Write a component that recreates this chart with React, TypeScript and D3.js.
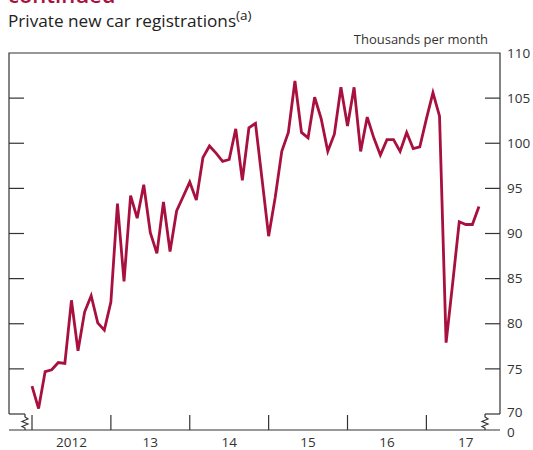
import React, { useEffect, useRef } from 'react';
import * as d3 from 'd3';

// monthly, Jan 2012 to Sep 2017
const registrations: number[] = [
  73.1, 70.6, 74.7, 74.9, 75.7, 75.6, 82.6, 77.0, 81.3, 83.1, 80.1, 79.3,
  82.4, 93.3, 84.7, 94.2, 91.7, 95.4, 90.1, 87.8, 93.5, 88.0, 92.5, 94.1,
  95.7, 93.7, 98.4, 99.7, 98.9, 98.0, 98.2, 101.6, 95.9, 101.7, 102.2, 96.0,
  89.7, 94.0, 99.1, 101.2, 106.9, 101.2, 100.6, 105.1, 102.7, 99.1, 101.0, 106.2,
  101.9, 106.2, 99.1, 102.9, 100.6, 98.7, 100.4, 100.4, 99.1, 101.2, 99.4, 99.6,
  102.7, 105.6, 103.0, 77.9, 84.5, 91.3, 91.0, 91.0, 93.0,
];
const yearLabels = ['2012', '13', '14', '15', '16', '17'];
const yTicks = [70, 75, 80, 85, 90, 95, 100, 105, 110];

const FONT = '"Open Sans", "Noto Sans", sans-serif';
const LINE = '#a8103f';
const INK = '#333333';

const App: React.FC = () => {
  const ref = useRef<SVGSVGElement>(null);

  useEffect(() => {
    if (!ref.current) return;
    const svg = d3.select(ref.current);
    svg.selectAll('*').remove();

    const left = 9, right = 500, top = 53, bottom = 430, breakY = 414;

    const x = d3.scaleLinear().domain([-3.5, 71.2]).range([left, right]);
    const y = d3.scaleLinear().domain([70, 110]).range([breakY, top]);

    // cut-off heading
    svg.append('text')
      .attr('x', 8).attr('y', 3)
      .attr('font-family', FONT).attr('font-size', 22).attr('font-weight', 600)
      .attr('fill', LINE)
      .text('continued');

    const title = svg.append('text')
      .attr('x', 8).attr('y', 27)
      .attr('font-family', FONT).attr('font-size', 17.2)
      .attr('fill', '#222');
    title.append('tspan').text('Private new car registrations');
    title.append('tspan').attr('font-size', 13.5).attr('dy', -7).text('(a)');

    svg.append('text')
      .attr('x', 488).attr('y', 44)
      .attr('text-anchor', 'end')
      .attr('font-family', FONT).attr('font-size', 13)
      .attr('fill', INK)
      .text('Thousands per month');

    const axis = svg.append('g').attr('stroke', INK).attr('stroke-width', 1.2).attr('fill', 'none');
    const zig = (cx: number) =>
      `M${cx},${breakY} L${cx},${breakY + 3} L${cx + 3},${breakY + 5} L${cx - 3},${breakY + 7.5} L${cx + 3},${breakY + 10} L${cx - 3},${breakY + 12.5} L${cx},${breakY + 14} L${cx},${bottom}`;

    // frame with broken-axis markers
    axis.append('path').attr('d', `M${left},${breakY} L${left},${top} L${right},${top} L${right},${breakY}`);
    axis.append('path').attr('d', `M${left},${breakY} L${left + 16},${breakY}`);
    axis.append('path').attr('d', `M${right},${breakY} L${right - 15},${breakY}`);
    axis.append('path').attr('d', zig(left + 16));
    axis.append('path').attr('d', zig(right - 15));
    axis.append('path').attr('d', `M${left},${bottom} L${right},${bottom}`);

    // y ticks both sides
    yTicks.filter(t => t > 70 && t < 110).forEach(t => {
      axis.append('line').attr('x1', left).attr('x2', left + 15).attr('y1', y(t)).attr('y2', y(t));
      axis.append('line').attr('x1', right).attr('x2', right - 15).attr('y1', y(t)).attr('y2', y(t));
    });

    const yLab = svg.append('g').attr('font-family', FONT).attr('font-size', 13.5).attr('fill', INK);
    yTicks.forEach(t => {
      yLab.append('text')
        .attr('x', 507).attr('y', y(t) - (t === 70 ? 2 : 0))
        .attr('dy', '0.35em').text(String(t));
    });
    yLab.append('text').attr('x', 507).attr('y', bottom + 2.5).attr('dy', '0.35em').text('0');

    // x ticks at year starts
    yearLabels.forEach((lab, i) => {
      const xs = x(i * 12);
      axis.append('line').attr('x1', xs).attr('x2', xs).attr('y1', bottom).attr('y2', bottom - 15);
      svg.append('text')
        .attr('x', x(i * 12 + 6)).attr('y', 447)
        .attr('text-anchor', 'middle')
        .attr('font-family', FONT).attr('font-size', 13.5).attr('fill', INK)
        .text(lab);
    });

    const line = d3.line<number>()
      .x((_, i) => x(i))
      .y(d => y(d));

    svg.append('path')
      .datum(registrations)
      .attr('fill', 'none')
      .attr('stroke', LINE)
      .attr('stroke-width', 2.8)
      .attr('stroke-linejoin', 'miter')
      .attr('d', line);
  }, []);

  return (
    <svg
      ref={ref}
      width={533}
      height={450}
      style={{ position: 'absolute', left: 0, top: 0 }}
    />
  );
};

export default App;
